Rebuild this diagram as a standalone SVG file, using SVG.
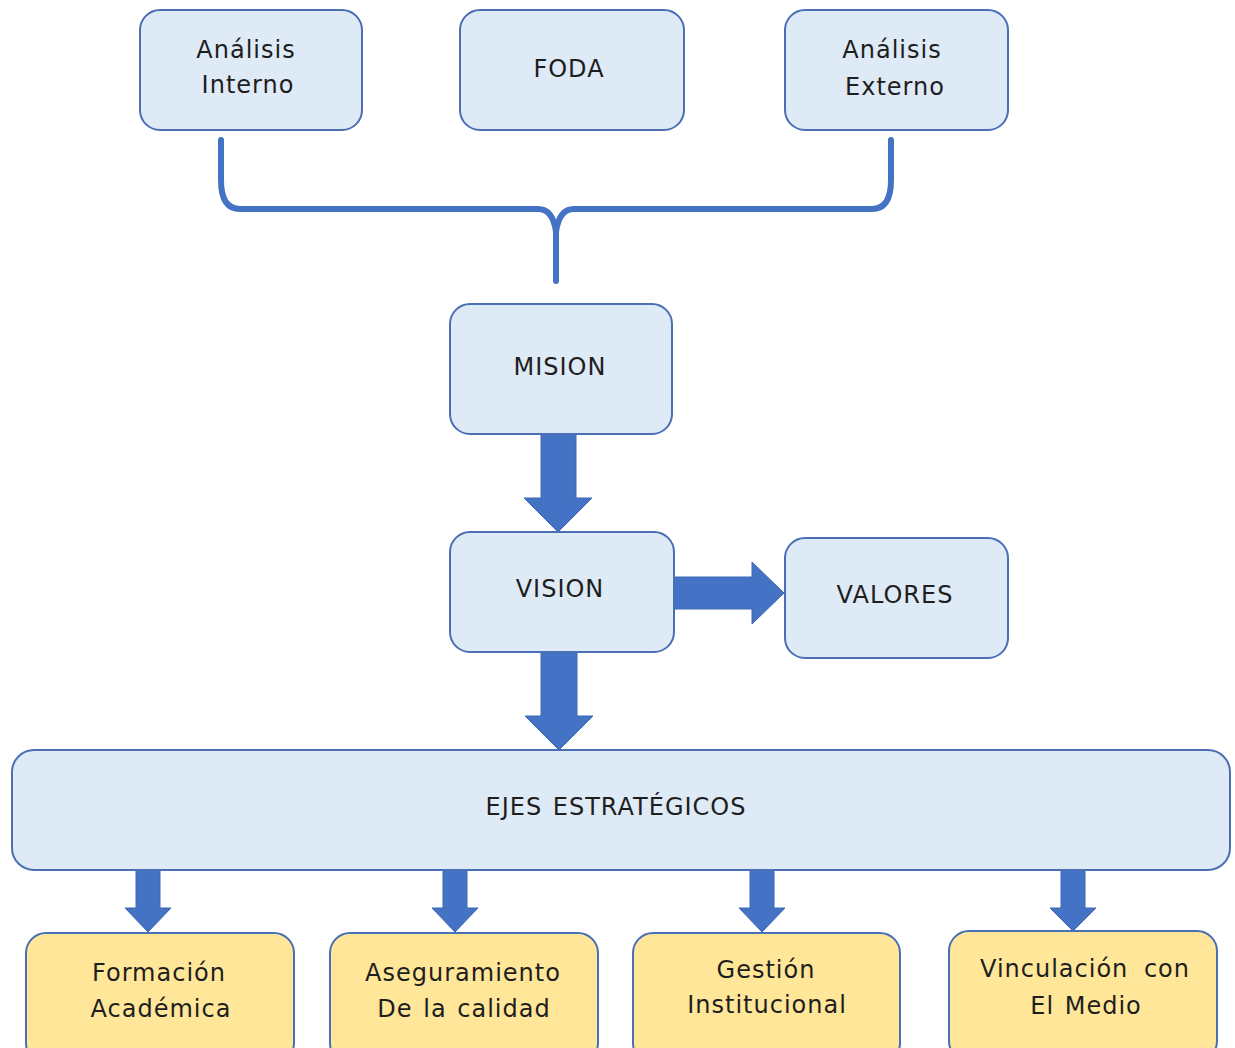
<svg xmlns="http://www.w3.org/2000/svg" width="1235" height="1048" viewBox="0 0 1235 1048">
<style>
.box{fill:#DEEAF6;stroke:#4A6FB5;stroke-width:2}
.ybox{fill:#FFE699;stroke:#4A6FB5;stroke-width:2}
.t{font-family:"DejaVu Sans",Verdana,sans-serif;font-size:24px;fill:#1e1e1e;text-anchor:middle;letter-spacing:1px;word-spacing:2px}
.wide{word-spacing:7px}
.arr{fill:#4472C4;stroke:#3E68B5;stroke-width:1}
.brace{fill:none;stroke:#4472C4;stroke-width:6;stroke-linecap:round;stroke-linejoin:round}
</style>
<rect width="1235" height="1048" fill="#fff"/>
<g id="connectors">
<path class="brace" d="M221,140 L221,180 Q221,209 240,209 L538,209 Q553,209 556,232 L556,281 M891,140 L891,180 Q891,209 872,209 L574,209 Q559,209 556,232"/>
<path class="arr" d="M541,434 L576,434 L576,498 L592,498 L558,532 L524,498 L541,498 Z"/>
<path class="arr" d="M541,652 L577,652 L577,716 L593,716 L559,750 L525,716 L541,716 Z"/>
<path class="arr" d="M674,577 L752,577 L752,562 L784,593 L752,624 L752,609 L674,609 Z"/>
<path class="arr" d="M136,870 L160,870 L160,908 L171,908 L148,932 L125,908 L136,908 Z"/>
<path class="arr" d="M443,870 L467,870 L467,908 L478,908 L455,932 L432,908 L443,908 Z"/>
<path class="arr" d="M750,870 L774,870 L774,908 L785,908 L762,932 L739,908 L750,908 Z"/>
<path class="arr" d="M1061,870 L1085,870 L1085,908 L1096,908 L1073,931 L1050,908 L1061,908 Z"/>
</g>
<g id="analisis-interno"><rect class="box" x="140" y="10" width="222" height="120" rx="20"/><text class="t" x="246" y="58">Análisis</text><text class="t" x="248" y="93">Interno</text></g>
<g id="foda"><rect class="box" x="460" y="10" width="224" height="120" rx="20"/><text class="t" x="569" y="77">FODA</text></g>
<g id="analisis-externo"><rect class="box" x="785" y="10" width="223" height="120" rx="20"/><text class="t" x="892" y="58">Análisis</text><text class="t" x="895" y="95">Externo</text></g>
<g id="mision"><rect class="box" x="450" y="304" width="222" height="130" rx="20"/><text class="t" x="560" y="375">MISION</text></g>
<g id="vision"><rect class="box" x="450" y="532" width="224" height="120" rx="20"/><text class="t" x="560" y="597">VISION</text></g>
<g id="valores"><rect class="box" x="785" y="538" width="223" height="120" rx="20"/><text class="t" x="895" y="603">VALORES</text></g>
<g id="ejes"><rect class="box" x="12" y="750" width="1218" height="120" rx="22"/><text class="t" x="616" y="815">EJES ESTRATÉGICOS</text></g>
<g id="formacion"><rect class="ybox" x="26" y="933" width="268" height="130" rx="20"/><text class="t" x="159" y="981">Formación</text><text class="t" x="161" y="1017">Académica</text></g>
<g id="aseguramiento"><rect class="ybox" x="330" y="933" width="268" height="130" rx="20"/><text class="t" x="463" y="981">Aseguramiento</text><text class="t" x="464" y="1017">De la calidad</text></g>
<g id="gestion"><rect class="ybox" x="633" y="933" width="267" height="130" rx="20"/><text class="t" x="766" y="978">Gestión</text><text class="t" x="767" y="1013">Institucional</text></g>
<g id="vinculacion"><rect class="ybox" x="949" y="931" width="268" height="130" rx="20"/><text class="t wide" x="1085" y="977">Vinculación con</text><text class="t" x="1086" y="1014">El Medio</text></g>
</svg>
